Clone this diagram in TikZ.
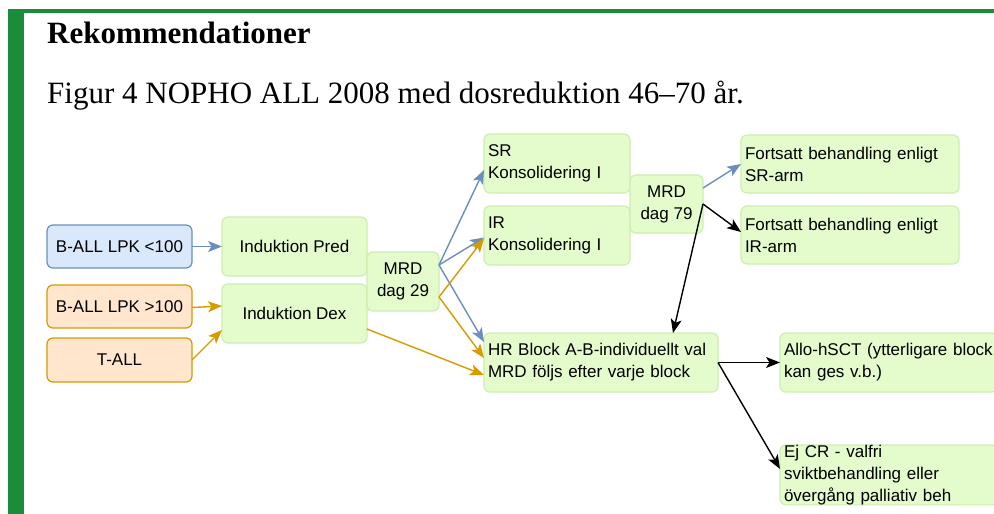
\documentclass[tikz,border=0pt]{standalone}
\usepackage{fontspec}
\setmainfont{Liberation Serif}
\newfontfamily\diagfont{Liberation Sans}
\usetikzlibrary{arrows.meta}
\definecolor{barGreen}{HTML}{1B8C3A}
\definecolor{bFill}{HTML}{DAE8FC}
\definecolor{bLine}{HTML}{6C8EBF}
\definecolor{oFill}{HTML}{FFE6CC}
\definecolor{oLine}{HTML}{D79B00}
\definecolor{gFill}{HTML}{E4FBCC}
\definecolor{gLine}{HTML}{CDEEB0}
\tikzset{
  box/.style={rounded corners=6pt, line width=1.2pt, outer sep=0pt, anchor=north west,
    inner xsep=4pt, inner ysep=0pt, font=\diagfont\fontsize{17}{22}\selectfont},
  bluebox/.style={box, fill=bFill, draw=bLine, align=center},
  orangebox/.style={box, fill=oFill, draw=oLine, align=center},
  greenbox/.style={box, fill=gFill, draw=gLine, align=center},
  leftbox/.style={box, fill=gFill, draw=gLine, align=left},
  conn/.style={line width=1.4pt, -{Stealth[length=14pt,width=11pt,inset=3.5pt]}},
  bluearr/.style={conn, draw=bLine, color=bLine},
  orangearr/.style={conn, draw=oLine, color=oLine},
  blackarr/.style={conn, draw=black},
}
\begin{document}
\begin{tikzpicture}[x=1pt,y=-1pt]
\clip (0,0) rectangle (994,514);
\fill[white] (0,0) rectangle (994,514);
% frame
\fill[barGreen] (8,9) rectangle (994,13);
\fill[barGreen] (8,9) rectangle (24,514);
% titles
\node[anchor=base west, inner sep=0pt, font=\fontsize{31}{36}\selectfont\bfseries] (title) at (47,43) {Rekommendationer};
\node[anchor=base west, inner sep=0pt, font=\fontsize{31}{36}\selectfont] (caption) at (47,103) {Figur 4 NOPHO ALL 2008 med dosreduktion 46–70 år.};
% left column
\node[bluebox, minimum width=145pt, minimum height=43pt] (b1) at (47,225) {B-ALL LPK <100};
\node[orangebox, minimum width=145pt, minimum height=43pt] (b2) at (47,285) {B-ALL LPK >100};
\node[orangebox, minimum width=145pt, minimum height=44pt] (tall) at (47,338) {T-ALL};
% induction
\node[greenbox, minimum width=145pt, minimum height=59pt] (pred) at (222,217) {Induktion Pred};
\node[greenbox, minimum width=145pt, minimum height=59pt] (dex) at (222,284) {Induktion Dex};
\node[greenbox, minimum width=72pt, minimum height=59pt] (mrd29) at (367,252) {MRD\\dag 29};
% consolidation
\node[leftbox, minimum width=146pt, minimum height=59pt, text width=138pt] (sr) at (484,134) {SR\\Konsolidering I};
\node[leftbox, minimum width=146pt, minimum height=59pt, text width=138pt] (ir) at (484,206) {IR\\Konsolidering I};
\node[leftbox, minimum width=234pt, minimum height=59pt, text width=226pt] (hr) at (484,333) {HR Block A-B-individuellt val\\MRD följs efter varje block};
\node[greenbox, minimum width=73pt, minimum height=58pt] (mrd79) at (630,175) {MRD\\dag 79};
% right column
\node[leftbox, minimum width=218pt, minimum height=58pt, text width=210pt] (fsr) at (741,135) {Fortsatt behandling enligt\\SR-arm};
\node[leftbox, minimum width=218pt, minimum height=58pt, text width=210pt] (fir) at (741,206) {Fortsatt behandling enligt\\IR-arm};
\node[leftbox, minimum width=218pt, minimum height=59pt, text width=210pt] (allo) at (780,333) {Allo-hSCT (ytterligare block\\kan ges v.b.)};
\node[leftbox, minimum width=218pt, minimum height=58pt, text width=210pt] (ejcr) at (780,445) {Ej CR - valfri\\sviktbehandling eller\\övergång palliativ beh};
% connectors
\draw[bluearr] (b1.east) -- (pred.west);
\draw[orangearr] ([yshift=-1pt]b2.east) -- ([yshift=7.5pt]dex.west);
\draw[orangearr] (tall.east) -- ([yshift=-16.5pt]dex.west);
\coordinate (m29b) at ([yshift=16.5pt]mrd29.east);
\coordinate (m29o) at ([yshift=-15.5pt]mrd29.east);
\draw[bluearr] (m29b) -- ([yshift=-6.5pt]sr.west);
\draw[bluearr] (m29b) -- ([yshift=-2pt]ir.west);
\draw[bluearr] (m29b) -- ([yshift=20.5pt]hr.west);
\draw[orangearr] (m29o) -- ([yshift=-3pt]ir.west);
\draw[orangearr] (m29o) -- ([yshift=4.5pt]hr.west);
\draw[orangearr] ([yshift=-15.5pt]dex.east) -- ([yshift=-12.5pt]hr.west);
\draw[bluearr] ([yshift=16pt]mrd79.east) -- (fsr.west);
\draw[blackarr] (mrd79.east) -- ([yshift=3pt]fir.west);
\draw[blackarr] (mrd79.east) -- ([xshift=72pt]hr.north);
\draw[blackarr] (hr.east) -- (allo.west);
\draw[blackarr] (hr.east) -- ([yshift=6pt]ejcr.west);
\end{tikzpicture}
\end{document}
